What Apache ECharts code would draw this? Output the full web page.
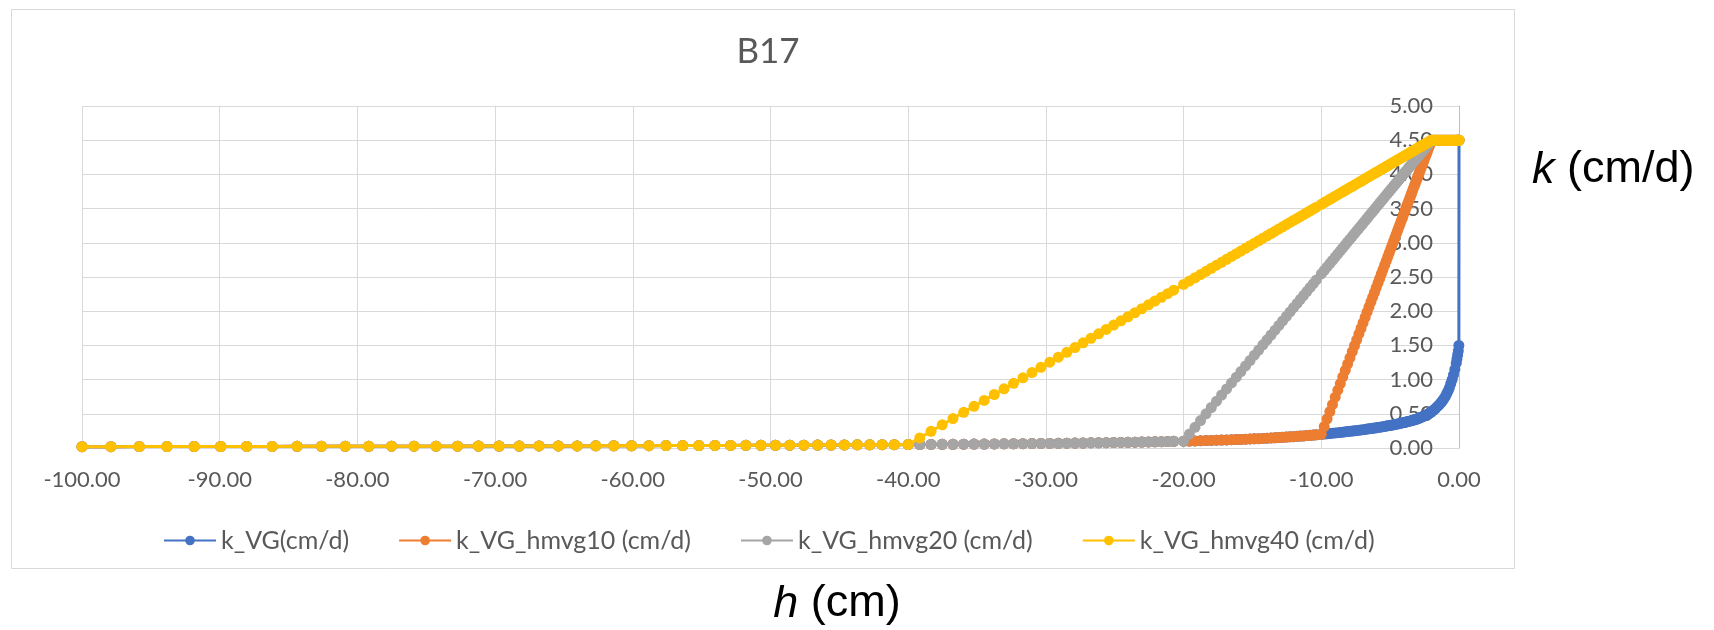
<!DOCTYPE html>
<html>
<head>
<meta charset="utf-8">
<title>B17</title>
<script src="https://cdn.jsdelivr.net/npm/echarts@6/dist/echarts.min.js"></script>
<style>
  html, body { margin: 0; padding: 0; background: #ffffff; }
  #chart { width: 1714px; height: 630px; }
</style>
</head>
<body>
<div id="chart"></div>
<script>
// Pressure head h (cm), shared by all four curves
const h = [
  -100, -97.9, -95.84, -93.83, -91.86, -89.93, -88.04, -86.19, -84.38, -82.61,
  -80.88, -79.18, -77.52, -75.89, -74.29, -72.73, -71.21, -69.71, -68.25, -66.81,
  -65.41, -64.04, -62.69, -61.38, -60.09, -58.83, -57.59, -56.38, -55.2, -54.04,
  -52.9, -51.79, -50.7, -49.64, -48.6, -47.58, -46.58, -45.6, -44.64, -43.7,
  -42.79, -41.89, -41.01, -40,
  -39.16, -38.34, -37.53, -36.75, -35.97, -35.22, -34.48, -33.75, -33.04, -32.35,
  -31.67, -31.01, -30.36, -29.72, -29.09, -28.48, -27.89, -27.3, -26.73, -26.17,
  -25.62, -25.08, -24.55, -24.04, -23.53, -23.04, -22.55, -22.08, -21.61, -21.16,
  -20.72, -20,
  -19.58, -19.17, -18.77, -18.37, -17.99, -17.61, -17.24, -16.88, -16.52, -16.17,
  -15.84, -15.5, -15.18, -14.86, -14.55, -14.24, -13.94, -13.65, -13.36, -13.08,
  -12.81, -12.54, -12.27, -12.02, -11.76, -11.52, -11.28, -11.04, -10.81, -10.58,
  -10.36, -10,
  -9.79, -9.58, -9.38, -9.19, -8.99, -8.8, -8.62, -8.44, -8.26, -8.09,
  -7.92, -7.75, -7.59, -7.43, -7.27, -7.12, -6.97, -6.82, -6.68, -6.54,
  -6.4, -6.27, -6.14, -6.01, -5.88, -5.76, -5.64, -5.52, -5.4, -5.29,
  -5.18, -5.07, -4.96, -4.86, -4.76, -4.66, -4.56, -4.46, -4.37, -4.28,
  -4.19, -4.1, -4.01, -3.93, -3.85, -3.77, -3.69, -3.61, -3.53, -3.46,
  -3.39, -3.31, -3.25, -3.18, -3.11, -3.04, -2.98, -2.92, -2.86, -2.8,
  -2.74, -2.68, -2.62, -2.57, -2.52, -2.46, -2.41, -2.36, -2.31, -2.26,
  -2.21, -2.17, -2.12, -2.08, -2.03, -2,
  -1.9, -1.8, -1.7, -1.6, -1.5, -1.4, -1.3, -1.2, -1.1, -1.0,
  -0.9, -0.8, -0.7, -0.6, -0.5, -0.4, -0.3, -0.2,
  -0.15, -0.1, -0.05, -0.01, 0
];

// k_VG (cm/d) at every h
const kVG = [
  0.020, 0.020, 0.021, 0.021, 0.022, 0.022, 0.023, 0.023, 0.024, 0.024,
  0.025, 0.025, 0.026, 0.026, 0.027, 0.027, 0.028, 0.029, 0.029, 0.030,
  0.031, 0.031, 0.032, 0.033, 0.033, 0.034, 0.035, 0.035, 0.036, 0.037,
  0.038, 0.039, 0.039, 0.040, 0.041, 0.042, 0.043, 0.044, 0.045, 0.046,
  0.047, 0.048, 0.049, 0.050,
  0.051, 0.052, 0.053, 0.054, 0.056, 0.057, 0.058, 0.059, 0.061, 0.062,
  0.063, 0.064, 0.066, 0.067, 0.069, 0.070, 0.072, 0.073, 0.075, 0.076,
  0.078, 0.080, 0.081, 0.083, 0.085, 0.087, 0.089, 0.091, 0.093, 0.095,
  0.097, 0.100,
  0.102, 0.104, 0.107, 0.109, 0.111, 0.114, 0.116, 0.118, 0.121, 0.124,
  0.126, 0.129, 0.132, 0.135, 0.137, 0.140, 0.143, 0.147, 0.150, 0.153,
  0.156, 0.159, 0.163, 0.166, 0.170, 0.174, 0.177, 0.181, 0.185, 0.189,
  0.193, 0.200,
  0.204, 0.208, 0.212, 0.216, 0.220, 0.224, 0.228, 0.232, 0.236, 0.240,
  0.244, 0.248, 0.252, 0.256, 0.260, 0.264, 0.268, 0.272, 0.276, 0.280,
  0.284, 0.288, 0.292, 0.296, 0.300, 0.304, 0.308, 0.312, 0.316, 0.320,
  0.324, 0.328, 0.332, 0.336, 0.340, 0.344, 0.348, 0.352, 0.356, 0.360,
  0.364, 0.368, 0.372, 0.376, 0.380, 0.384, 0.388, 0.392, 0.396, 0.400,
  0.404, 0.408, 0.412, 0.416, 0.420, 0.425, 0.430, 0.435, 0.440, 0.445,
  0.450, 0.455, 0.460, 0.465, 0.470, 0.475, 0.480, 0.485, 0.490, 0.495,
  0.500, 0.506, 0.512, 0.518, 0.524, 0.530,
  0.545, 0.56, 0.58, 0.60, 0.62, 0.64, 0.665, 0.69, 0.72, 0.75,
  0.79, 0.83, 0.88, 0.94, 1.00, 1.07, 1.15, 1.24,
  1.30, 1.36, 1.42, 1.50, 4.50
];

// Linear branches of the modified curves, from just after h = -40 / -20 / -10 up to h = 0.
// Below those heads the modified curves coincide with k_VG.
const rampHmvg40 = [
  0.148, 0.244, 0.339, 0.431, 0.522, 0.610, 0.696, 0.782, 0.865, 0.946,
  1.026, 1.103, 1.179, 1.254, 1.328, 1.399, 1.468, 1.537, 1.604, 1.670,
  1.734, 1.797, 1.859, 1.919, 1.979, 2.036, 2.094, 2.149, 2.204, 2.256,
  2.308, 2.392,
  2.441, 2.489, 2.536, 2.583, 2.628, 2.672, 2.715, 2.758, 2.800, 2.841,
  2.879, 2.919, 2.957, 2.994, 3.030, 3.067, 3.102, 3.136, 3.170, 3.203,
  3.234, 3.266, 3.298, 3.327, 3.357, 3.385, 3.413, 3.442, 3.468, 3.495,
  3.521, 3.563,
  3.588, 3.612, 3.636, 3.658, 3.681, 3.703, 3.725, 3.746, 3.767, 3.787,
  3.807, 3.826, 3.845, 3.864, 3.883, 3.900, 3.918, 3.935, 3.952, 3.968,
  3.985, 4.000, 4.015, 4.030, 4.045, 4.059, 4.074, 4.088, 4.102, 4.115,
  4.127, 4.140, 4.153, 4.165, 4.177, 4.188, 4.200, 4.212, 4.222, 4.233,
  4.243, 4.254, 4.264, 4.274, 4.283, 4.292, 4.302, 4.311, 4.321, 4.329,
  4.337, 4.346, 4.353, 4.362, 4.370, 4.378, 4.385, 4.392, 4.399, 4.406,
  4.413, 4.420, 4.427, 4.433, 4.439, 4.446, 4.452, 4.458, 4.464, 4.469,
  4.475, 4.480, 4.486, 4.490, 4.496, 4.500,
  4.5, 4.5, 4.5, 4.5, 4.5, 4.5, 4.5, 4.5, 4.5, 4.5,
  4.5, 4.5, 4.5, 4.5, 4.5, 4.5, 4.5, 4.5,
  4.5, 4.5, 4.5, 4.5, 4.5
];

const rampHmvg20 = [
  0.203, 0.303, 0.401, 0.499, 0.592, 0.684, 0.775, 0.863, 0.951, 1.036,
  1.117, 1.200, 1.278, 1.357, 1.432, 1.508, 1.582, 1.652, 1.723, 1.792,
  1.858, 1.924, 1.990, 2.051, 2.114, 2.173, 2.232, 2.290, 2.347, 2.403,
  2.457, 2.545,
  2.596, 2.647, 2.696, 2.743, 2.792, 2.838, 2.882, 2.926, 2.970, 3.012,
  3.053, 3.095, 3.134, 3.173, 3.212, 3.249, 3.285, 3.322, 3.356, 3.390,
  3.425, 3.456, 3.488, 3.520, 3.552, 3.581, 3.610, 3.640, 3.669, 3.696,
  3.723, 3.750, 3.777, 3.801, 3.826, 3.850, 3.874, 3.899, 3.921, 3.943,
  3.965, 3.987, 4.009, 4.028, 4.048, 4.067, 4.087, 4.107, 4.126, 4.143,
  4.160, 4.180, 4.195, 4.212, 4.229, 4.246, 4.261, 4.275, 4.290, 4.305,
  4.319, 4.334, 4.349, 4.361, 4.373, 4.388, 4.400, 4.412, 4.424, 4.437,
  4.449, 4.459, 4.471, 4.481, 4.493, 4.500,
  4.5, 4.5, 4.5, 4.5, 4.5, 4.5, 4.5, 4.5, 4.5, 4.5,
  4.5, 4.5, 4.5, 4.5, 4.5, 4.5, 4.5, 4.5,
  4.5, 4.5, 4.5, 4.5, 4.5
];

const rampHmvg10 = [
  0.313, 0.426, 0.533, 0.635, 0.743, 0.845, 0.942, 1.039, 1.135, 1.227,
  1.318, 1.409, 1.495, 1.581, 1.667, 1.748, 1.829, 1.909, 1.985, 2.060,
  2.135, 2.205, 2.275, 2.345, 2.415, 2.479, 2.544, 2.608, 2.673, 2.732,
  2.791, 2.850, 2.909, 2.963, 3.017, 3.070, 3.124, 3.178, 3.226, 3.275,
  3.323, 3.371, 3.420, 3.463, 3.506, 3.549, 3.592, 3.635, 3.678, 3.715,
  3.753, 3.796, 3.828, 3.866, 3.903, 3.941, 3.973, 4.006, 4.038, 4.070,
  4.102, 4.135, 4.167, 4.194, 4.221, 4.253, 4.280, 4.307, 4.333, 4.360,
  4.387, 4.409, 4.436, 4.457, 4.484, 4.500,
  4.5, 4.5, 4.5, 4.5, 4.5, 4.5, 4.5, 4.5, 4.5, 4.5,
  4.5, 4.5, 4.5, 4.5, 4.5, 4.5, 4.5, 4.5,
  4.5, 4.5, 4.5, 4.5, 4.5
];

const seriesNames = [
  'k_VG(cm/d)',
  'k_VG_hmvg10 (cm/d)',
  'k_VG_hmvg20 (cm/d)',
  'k_VG_hmvg40 (cm/d)'
];
const seriesColors = ['#4472C4', '#ED7D31', '#A5A5A5', '#FFC000'];
const xTicks = { min: -100, max: 0, step: 10 };
const yTicks = { min: 0, max: 5, step: 0.5 };

// A modified curve follows k_VG up to its head, then its own linear branch
function withRamp(ramp) {
  return kVG.slice(0, h.length - ramp.length).concat(ramp);
}
const curves = [kVG, withRamp(rampHmvg10), withRamp(rampHmvg20), withRamp(rampHmvg40)];

const textColor = '#595959';
const labelFont = 'Lato';

const chart = echarts.init(document.getElementById('chart'), null, { renderer: 'canvas' });

chart.setOption({
  animation: false,
  backgroundColor: '#ffffff',
  title: {
    text: 'B17',
    left: 763,
    top: 29,
    textAlign: 'center',
    textStyle: { color: textColor, fontFamily: labelFont, fontSize: 35, fontWeight: 'normal' }
  },
  grid: { left: 82, right: 255, top: 106, bottom: 182, containLabel: false },
  xAxis: {
    type: 'value',
    min: xTicks.min,
    max: xTicks.max,
    interval: xTicks.step,
    axisLine: { show: true, onZero: false, lineStyle: { color: '#d9d9d9', width: 1 } },
    axisTick: { show: false },
    splitLine: { show: true, lineStyle: { color: '#d9d9d9', width: 1 } },
    axisLabel: {
      margin: 21,
      color: textColor,
      fontFamily: labelFont,
      fontSize: 22,
      formatter: v => v.toFixed(2)
    }
  },
  yAxis: {
    type: 'value',
    position: 'right',
    min: yTicks.min,
    max: yTicks.max,
    interval: yTicks.step,
    axisLine: { show: true, lineStyle: { color: '#bfbfbf', width: 1 } },
    axisTick: { show: false },
    splitLine: { show: true, lineStyle: { color: '#d9d9d9', width: 1 } },
    axisLabel: {
      inside: true,
      margin: 26,
      color: textColor,
      fontFamily: labelFont,
      fontSize: 22,
      formatter: v => v.toFixed(2)
    }
  },
  legend: {
    left: 158,
    top: 523,
    itemGap: 49,
    itemWidth: 52,
    itemHeight: 12,
    textStyle: { color: textColor, fontFamily: labelFont, fontSize: 25 },
    data: seriesNames
  },
  series: seriesNames.map((name, s) => ({
    name,
    type: 'line',
    data: h.map((x, i) => [x, curves[s][i]]),
    color: seriesColors[s],
    symbol: 'circle',
    symbolSize: 11,
    showSymbol: true,
    showAllSymbol: true,
    lineStyle: { width: 3, color: seriesColors[s] },
    itemStyle: { color: seriesColors[s] },
    clip: false,
    z: 2 + s
  })),
  graphic: [
    {
      type: 'rect',
      shape: { x: 11.5, y: 9.5, width: 1503, height: 559 },
      style: { fill: 'none', stroke: '#d9d9d9', lineWidth: 1 },
      z: -10,
      silent: true
    },
    {
      type: 'text',
      x: 1532,
      y: 170,
      style: {
        text: '{i|k} (cm/d)',
        fill: '#000000',
        fontFamily: 'Liberation Sans',
        fontSize: 45,
        textVerticalAlign: 'middle',
        rich: { i: { fontStyle: 'italic', fontFamily: 'Liberation Sans', fontSize: 45, fill: '#000000' } }
      }
    },
    {
      type: 'text',
      x: 837,
      y: 604,
      style: {
        text: '{i|h} (cm)',
        fill: '#000000',
        fontFamily: 'Liberation Sans',
        fontSize: 45,
        textAlign: 'center',
        textVerticalAlign: 'middle',
        rich: { i: { fontStyle: 'italic', fontFamily: 'Liberation Sans', fontSize: 45, fill: '#000000' } }
      }
    }
  ]
});
</script>
</body>
</html>
